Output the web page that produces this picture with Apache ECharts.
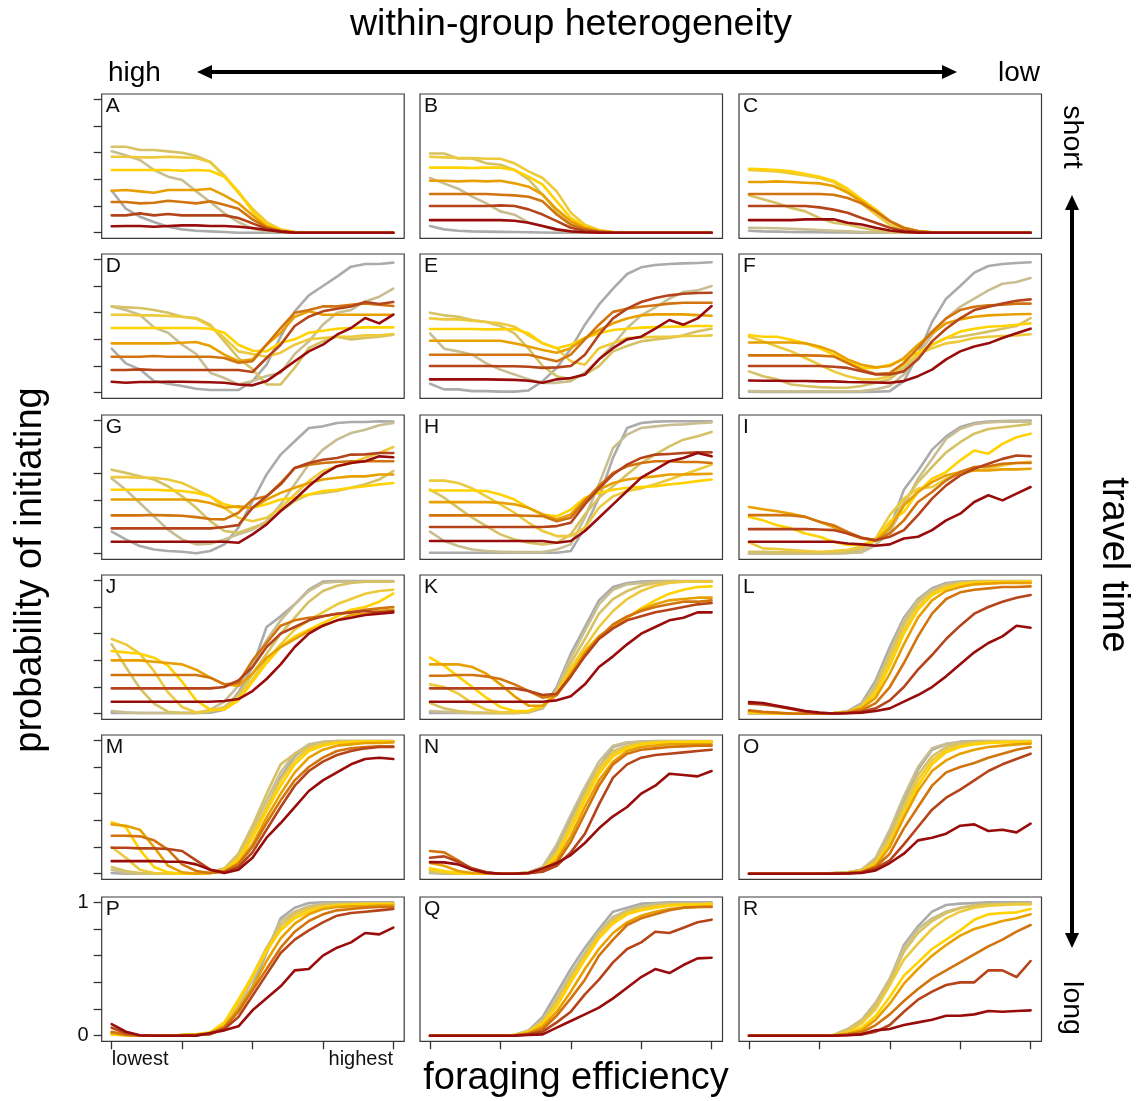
<!DOCTYPE html>
<html><head><meta charset="utf-8">
<script src="https://cdn.jsdelivr.net/npm/echarts@6/dist/echarts.min.js"></script>
<style>html,body{margin:0;padding:0;background:#fff}#c{width:1147px;height:1101px}</style>
</head><body><div id="c"></div>
<script>
// ---------- data ----------
const efficiency = [0,0.05,0.1,0.15,0.2,0.25,0.3,0.35,0.4,0.45,0.5,0.55,0.6,0.65,0.7,0.75,0.8,0.85,0.9,0.95,1];
const panelLetters = ['A','B','C','D','E','F','G','H','I','J','K','L','M','N','O','P','Q','R'];
const lineNames = ['grey','tan','khaki','lightYellow','gold','orange','darkOrange','rust','darkRed'];
const yTickValues = [0,0.2,0.4,0.6,0.8,1];
const yTickLabelValues = [0,1];
const xTickValues = [0,0.25,0.5,0.75,1];
const xTickLabelValues = [0,1];
const xLabelLow = 'lowest', xLabelHigh = 'highest';
const titleTop = 'within-group heterogeneity', labelHigh = 'high', labelLow = 'low';
const titleRight = 'travel time', labelShort = 'short', labelLong = 'long';
const titleLeft = 'probability of initiating', titleBottom = 'foraging efficiency';

const panelA = [
 [0.315,0.18,0.12,0.08,0.045,0.025,0.015,0.01,0.005,0,0,0,0,0,0,0,0,0,0,0,0],
 [0.61,0.58,0.545,0.47,0.42,0.395,0.31,0.23,0.145,0.08,0.03,0.012,0.005,0,0,0,0,0,0,0,0],
 [0.645,0.645,0.62,0.62,0.61,0.6,0.575,0.53,0.43,0.3,0.17,0.07,0.02,0.005,0,0,0,0,0,0,0],
 [0.57,0.57,0.565,0.565,0.57,0.565,0.56,0.53,0.42,0.3,0.18,0.08,0.025,0.005,0,0,0,0,0,0,0],
 [0.47,0.47,0.47,0.47,0.47,0.465,0.47,0.465,0.42,0.31,0.16,0.06,0.02,0.005,0,0,0,0,0,0,0],
 [0.315,0.32,0.31,0.3,0.32,0.32,0.32,0.33,0.28,0.22,0.13,0.045,0.015,0.005,0,0,0,0,0,0,0],
 [0.23,0.23,0.22,0.225,0.24,0.23,0.22,0.235,0.21,0.18,0.1,0.04,0.01,0,0,0,0,0,0,0,0],
 [0.13,0.13,0.145,0.13,0.14,0.13,0.13,0.13,0.13,0.11,0.07,0.03,0.01,0,0,0,0,0,0,0,0],
 [0.048,0.05,0.05,0.045,0.05,0.055,0.055,0.05,0.05,0.045,0.035,0.02,0.008,0,0,0,0,0,0,0,0]
];
const panelB = [
 [0.05,0.025,0.015,0.01,0.008,0.006,0.005,0.003,0.002,0,0,0,0,0,0,0,0,0,0,0,0],
 [0.41,0.37,0.33,0.27,0.22,0.16,0.135,0.075,0.05,0.018,0.008,0.003,0,0,0,0,0,0,0,0,0],
 [0.594,0.594,0.557,0.557,0.52,0.51,0.47,0.4,0.285,0.16,0.075,0.025,0.008,0.002,0,0,0,0,0,0,0],
 [0.57,0.565,0.56,0.56,0.555,0.555,0.52,0.46,0.41,0.31,0.15,0.06,0.02,0.005,0,0,0,0,0,0,0],
 [0.488,0.488,0.488,0.485,0.488,0.488,0.47,0.42,0.36,0.235,0.11,0.05,0.015,0.004,0,0,0,0,0,0,0],
 [0.39,0.39,0.385,0.39,0.385,0.39,0.37,0.345,0.285,0.175,0.087,0.037,0.012,0.003,0,0,0,0,0,0,0],
 [0.29,0.29,0.29,0.29,0.29,0.285,0.28,0.27,0.235,0.136,0.06,0.025,0.008,0.002,0,0,0,0,0,0,0],
 [0.2,0.2,0.2,0.2,0.2,0.205,0.2,0.175,0.136,0.087,0.037,0.015,0.005,0,0,0,0,0,0,0,0],
 [0.094,0.094,0.094,0.094,0.094,0.094,0.09,0.075,0.05,0.025,0.01,0.003,0,0,0,0,0,0,0,0,0]
];
const panelC = [
 [0.015,0.01,0.008,0.005,0.004,0.003,0.002,0.001,0,0,0,0,0,0,0,0,0,0,0,0,0],
 [0.037,0.035,0.033,0.03,0.025,0.02,0.015,0.01,0.005,0.002,0,0,0,0,0,0,0,0,0,0,0],
 [0.28,0.25,0.22,0.185,0.16,0.11,0.075,0.062,0.037,0.017,0.007,0.002,0,0,0,0,0,0,0,0,0],
 [0.47,0.465,0.46,0.445,0.43,0.41,0.38,0.31,0.22,0.136,0.06,0.025,0.008,0.002,0,0,0,0,0,0,0],
 [0.48,0.475,0.47,0.46,0.44,0.42,0.39,0.33,0.25,0.175,0.087,0.037,0.012,0.003,0,0,0,0,0,0,0],
 [0.38,0.38,0.385,0.38,0.375,0.37,0.35,0.3,0.235,0.16,0.087,0.037,0.012,0.003,0,0,0,0,0,0,0],
 [0.29,0.29,0.29,0.29,0.29,0.29,0.285,0.26,0.22,0.16,0.087,0.035,0.01,0.002,0,0,0,0,0,0,0],
 [0.2,0.2,0.2,0.2,0.2,0.19,0.173,0.15,0.11,0.074,0.037,0.015,0.005,0,0,0,0,0,0,0,0],
 [0.094,0.094,0.094,0.094,0.1,0.1,0.1,0.074,0.062,0.037,0.017,0.006,0,0,0,0,0,0,0,0,0]
];
const panelD = [
 [0.33,0.22,0.175,0.087,0.067,0.05,0.03,0.02,0.02,0.02,0.087,0.21,0.42,0.61,0.73,0.8,0.87,0.945,0.965,0.965,0.975],
 [0.647,0.62,0.585,0.49,0.45,0.36,0.29,0.15,0.11,0.062,0.087,0.125,0.15,0.29,0.385,0.51,0.6,0.62,0.684,0.72,0.78],
 [0.647,0.64,0.635,0.62,0.6,0.57,0.56,0.51,0.385,0.26,0.175,0.062,0.062,0.187,0.335,0.385,0.42,0.4,0.41,0.42,0.435],
 [0.585,0.585,0.58,0.58,0.575,0.57,0.555,0.5,0.41,0.31,0.29,0.27,0.3,0.36,0.4,0.41,0.42,0.42,0.43,0.43,0.44],
 [0.485,0.485,0.485,0.485,0.485,0.485,0.485,0.48,0.45,0.36,0.315,0.31,0.375,0.4,0.45,0.465,0.48,0.485,0.49,0.49,0.49],
 [0.37,0.37,0.37,0.37,0.37,0.375,0.38,0.35,0.285,0.236,0.25,0.36,0.45,0.57,0.61,0.585,0.585,0.585,0.585,0.585,0.585],
 [0.27,0.27,0.27,0.275,0.27,0.27,0.27,0.27,0.26,0.224,0.236,0.36,0.485,0.6,0.62,0.647,0.647,0.66,0.67,0.66,0.65],
 [0.17,0.17,0.175,0.17,0.17,0.17,0.17,0.17,0.17,0.17,0.155,0.26,0.36,0.5,0.57,0.61,0.63,0.647,0.68,0.665,0.68],
 [0.082,0.075,0.08,0.08,0.082,0.082,0.08,0.078,0.075,0.062,0.055,0.087,0.16,0.236,0.31,0.36,0.435,0.485,0.56,0.52,0.585]
];
const panelE = [
 [0.067,0.025,0.025,0.012,0.012,0.008,0.008,0.017,0.087,0.186,0.33,0.51,0.66,0.78,0.89,0.94,0.958,0.965,0.97,0.973,0.978],
 [0.445,0.33,0.31,0.285,0.22,0.173,0.136,0.1,0.074,0.074,0.087,0.15,0.25,0.36,0.485,0.58,0.64,0.705,0.755,0.767,0.8],
 [0.6,0.58,0.57,0.545,0.53,0.5,0.445,0.33,0.2,0.124,0.1,0.136,0.2,0.31,0.35,0.385,0.4,0.41,0.43,0.46,0.48],
 [0.557,0.55,0.55,0.54,0.53,0.52,0.495,0.43,0.37,0.334,0.235,0.21,0.334,0.37,0.41,0.415,0.42,0.42,0.425,0.425,0.43],
 [0.478,0.478,0.478,0.478,0.475,0.475,0.478,0.445,0.37,0.334,0.36,0.41,0.445,0.47,0.48,0.488,0.492,0.495,0.497,0.5,0.5],
 [0.39,0.39,0.39,0.39,0.39,0.39,0.37,0.346,0.32,0.3,0.334,0.41,0.47,0.52,0.557,0.58,0.587,0.587,0.587,0.582,0.577],
 [0.285,0.285,0.285,0.285,0.285,0.285,0.285,0.285,0.26,0.235,0.285,0.4,0.51,0.606,0.63,0.644,0.656,0.668,0.675,0.675,0.675],
 [0.2,0.2,0.2,0.2,0.2,0.198,0.198,0.195,0.186,0.19,0.2,0.285,0.433,0.557,0.63,0.68,0.71,0.73,0.742,0.747,0.75],
 [0.1,0.1,0.1,0.1,0.1,0.098,0.096,0.09,0.074,0.1,0.11,0.136,0.25,0.334,0.4,0.42,0.48,0.545,0.51,0.557,0.65]
];
const panelF = [
 [0.007,0.005,0.005,0.005,0.005,0.005,0.005,0.005,0.005,0.007,0.012,0.087,0.285,0.53,0.705,0.8,0.9,0.95,0.965,0.973,0.978],
 [0.012,0.01,0.01,0.01,0.01,0.01,0.01,0.01,0.012,0.025,0.05,0.136,0.285,0.433,0.557,0.644,0.705,0.767,0.817,0.83,0.86],
 [0.16,0.124,0.1,0.062,0.05,0.042,0.037,0.037,0.05,0.074,0.1,0.186,0.285,0.36,0.41,0.42,0.438,0.458,0.48,0.5,0.56],
 [0.42,0.385,0.346,0.31,0.26,0.21,0.16,0.124,0.1,0.1,0.124,0.21,0.285,0.334,0.37,0.385,0.41,0.42,0.425,0.43,0.438],
 [0.433,0.42,0.42,0.396,0.37,0.334,0.285,0.235,0.186,0.186,0.21,0.25,0.3,0.36,0.41,0.458,0.48,0.495,0.5,0.51,0.52],
 [0.376,0.376,0.376,0.376,0.37,0.346,0.31,0.25,0.21,0.19,0.2,0.26,0.36,0.445,0.52,0.55,0.57,0.58,0.585,0.588,0.59],
 [0.28,0.28,0.28,0.28,0.28,0.278,0.272,0.223,0.173,0.14,0.148,0.223,0.334,0.458,0.557,0.62,0.644,0.656,0.66,0.668,0.668],
 [0.2,0.2,0.2,0.2,0.2,0.2,0.195,0.186,0.16,0.136,0.136,0.16,0.25,0.385,0.48,0.557,0.62,0.644,0.668,0.69,0.7],
 [0.092,0.09,0.09,0.088,0.088,0.085,0.085,0.08,0.078,0.076,0.074,0.087,0.124,0.173,0.25,0.31,0.346,0.37,0.41,0.445,0.48]
];
const panelG = [
 [0.165,0.107,0.057,0.032,0.02,0.015,0.003,0.02,0.07,0.195,0.394,0.594,0.743,0.843,0.943,0.955,0.98,0.988,0.988,0.993,0.99],
 [0.564,0.48,0.38,0.28,0.18,0.107,0.07,0.075,0.107,0.145,0.18,0.244,0.37,0.52,0.67,0.78,0.855,0.905,0.93,0.963,0.98],
 [0.63,0.606,0.58,0.556,0.506,0.43,0.344,0.244,0.17,0.157,0.195,0.232,0.32,0.394,0.444,0.456,0.47,0.494,0.52,0.556,0.62],
 [0.574,0.574,0.57,0.57,0.556,0.53,0.48,0.43,0.344,0.27,0.244,0.27,0.344,0.444,0.544,0.62,0.656,0.68,0.72,0.755,0.8],
 [0.48,0.48,0.48,0.48,0.475,0.47,0.456,0.43,0.37,0.344,0.344,0.37,0.406,0.42,0.444,0.47,0.48,0.494,0.506,0.52,0.53],
 [0.406,0.406,0.406,0.406,0.406,0.406,0.4,0.38,0.344,0.356,0.344,0.406,0.456,0.494,0.53,0.556,0.57,0.58,0.58,0.594,0.594],
 [0.287,0.287,0.287,0.29,0.287,0.285,0.274,0.26,0.257,0.307,0.406,0.43,0.53,0.643,0.668,0.68,0.688,0.693,0.693,0.693,0.693],
 [0.19,0.19,0.19,0.19,0.19,0.19,0.19,0.19,0.2,0.214,0.344,0.43,0.52,0.643,0.68,0.705,0.718,0.743,0.745,0.755,0.755],
 [0.09,0.09,0.09,0.09,0.09,0.09,0.09,0.09,0.09,0.082,0.145,0.22,0.32,0.406,0.506,0.594,0.656,0.68,0.693,0.73,0.723]
];
const panelH = [
 [0.007,0.007,0.007,0.007,0.007,0.007,0.007,0.007,0.007,0.007,0.02,0.195,0.42,0.72,0.943,0.98,0.99,0.993,0.993,0.993,0.993],
 [0.165,0.095,0.057,0.032,0.02,0.015,0.012,0.012,0.012,0.032,0.07,0.27,0.52,0.793,0.893,0.943,0.955,0.965,0.97,0.978,0.985],
 [0.48,0.42,0.344,0.27,0.207,0.145,0.107,0.082,0.07,0.082,0.145,0.294,0.42,0.506,0.594,0.68,0.743,0.805,0.855,0.88,0.913],
 [0.548,0.548,0.53,0.49,0.43,0.37,0.307,0.232,0.17,0.132,0.132,0.195,0.344,0.43,0.47,0.49,0.52,0.556,0.594,0.63,0.668],
 [0.474,0.474,0.474,0.474,0.47,0.444,0.406,0.344,0.294,0.28,0.33,0.42,0.456,0.48,0.494,0.5,0.506,0.52,0.53,0.544,0.556],
 [0.387,0.387,0.387,0.387,0.387,0.382,0.37,0.344,0.294,0.257,0.294,0.406,0.48,0.53,0.556,0.57,0.58,0.594,0.594,0.597,0.6],
 [0.287,0.287,0.287,0.287,0.287,0.287,0.287,0.285,0.282,0.244,0.27,0.394,0.506,0.606,0.656,0.68,0.693,0.693,0.688,0.688,0.68],
 [0.2,0.2,0.2,0.2,0.2,0.2,0.2,0.2,0.2,0.207,0.232,0.37,0.49,0.594,0.668,0.718,0.743,0.748,0.755,0.76,0.76],
 [0.095,0.095,0.095,0.095,0.095,0.095,0.095,0.095,0.095,0.082,0.095,0.17,0.27,0.37,0.47,0.57,0.63,0.693,0.718,0.755,0.73]
];
const panelI = [
 [0.003,0.003,0.003,0.003,0.003,0.003,0.003,0.005,0.015,0.065,0.19,0.48,0.62,0.78,0.88,0.95,0.98,0.99,0.995,0.997,0.998],
 [0,0,0,0,0,0,0.002,0.005,0.01,0.065,0.164,0.363,0.562,0.71,0.86,0.935,0.97,0.985,0.99,0.99,0.99],
 [0.015,0.015,0.01,0.01,0.01,0.01,0.01,0.015,0.035,0.1,0.214,0.388,0.537,0.65,0.76,0.836,0.9,0.935,0.948,0.96,0.973],
 [0.085,0.04,0.035,0.027,0.02,0.015,0.02,0.03,0.052,0.114,0.289,0.413,0.488,0.5,0.562,0.6,0.624,0.637,0.662,0.68,0.69],
 [0.276,0.25,0.214,0.19,0.152,0.127,0.09,0.065,0.065,0.1,0.24,0.313,0.463,0.562,0.612,0.7,0.774,0.75,0.823,0.873,0.9],
 [0.35,0.333,0.318,0.3,0.276,0.24,0.2,0.152,0.114,0.1,0.19,0.363,0.463,0.537,0.587,0.612,0.624,0.624,0.632,0.632,0.637],
 [0.289,0.289,0.289,0.287,0.276,0.24,0.214,0.164,0.12,0.1,0.152,0.25,0.388,0.463,0.55,0.612,0.65,0.655,0.674,0.68,0.68],
 [0.184,0.184,0.184,0.184,0.184,0.182,0.177,0.152,0.12,0.1,0.127,0.177,0.289,0.413,0.512,0.587,0.637,0.674,0.711,0.736,0.731],
 [0.09,0.09,0.09,0.09,0.09,0.09,0.09,0.077,0.07,0.06,0.07,0.114,0.127,0.177,0.25,0.3,0.388,0.438,0.4,0.45,0.5]
];
const panelJ = [
 [0.005,0.005,0.005,0.005,0.005,0.005,0.005,0.008,0.03,0.16,0.35,0.65,0.73,0.82,0.93,0.99,0.995,0.995,0.995,0.995,0.995],
 [0.02,0.01,0.005,0.005,0.005,0.005,0.005,0.03,0.09,0.21,0.37,0.55,0.7,0.82,0.92,0.98,0.99,0.99,0.99,0.99,0.99],
 [0.52,0.35,0.19,0.075,0.015,0.005,0.005,0.02,0.05,0.14,0.3,0.45,0.6,0.72,0.84,0.92,0.96,0.98,0.99,0.99,0.99],
 [0.56,0.52,0.45,0.32,0.16,0.05,0.01,0.02,0.04,0.12,0.26,0.4,0.52,0.63,0.7,0.76,0.82,0.86,0.9,0.92,0.93],
 [0.47,0.46,0.45,0.42,0.36,0.24,0.1,0.03,0.03,0.1,0.24,0.38,0.5,0.58,0.63,0.68,0.73,0.78,0.8,0.84,0.9],
 [0.4,0.4,0.4,0.39,0.38,0.37,0.33,0.27,0.22,0.21,0.3,0.42,0.5,0.56,0.62,0.66,0.7,0.74,0.75,0.77,0.78],
 [0.29,0.29,0.29,0.29,0.29,0.29,0.29,0.27,0.22,0.23,0.4,0.53,0.66,0.7,0.72,0.73,0.75,0.76,0.78,0.79,0.8],
 [0.19,0.19,0.19,0.19,0.19,0.19,0.19,0.19,0.2,0.25,0.35,0.5,0.6,0.65,0.7,0.73,0.75,0.76,0.77,0.76,0.77],
 [0.09,0.09,0.09,0.09,0.09,0.09,0.09,0.09,0.095,0.11,0.17,0.26,0.37,0.5,0.6,0.66,0.7,0.72,0.74,0.75,0.76]
];
const panelK = [
 [0.005,0.005,0.005,0.005,0.005,0.005,0.005,0.01,0.04,0.2,0.45,0.65,0.85,0.95,0.98,0.99,0.995,0.995,0.995,0.995,0.995],
 [0.02,0.015,0.01,0.005,0.005,0.005,0.005,0.01,0.04,0.18,0.42,0.62,0.82,0.93,0.97,0.98,0.99,0.99,0.99,0.99,0.99],
 [0.08,0.04,0.02,0.01,0.005,0.005,0.005,0.01,0.05,0.17,0.38,0.56,0.75,0.86,0.92,0.96,0.98,0.99,0.99,0.99,0.99],
 [0.22,0.2,0.15,0.08,0.03,0.01,0.01,0.02,0.06,0.16,0.34,0.5,0.65,0.77,0.86,0.92,0.96,0.98,0.99,0.99,0.99],
 [0.42,0.36,0.28,0.2,0.12,0.05,0.02,0.02,0.06,0.16,0.32,0.47,0.58,0.65,0.72,0.79,0.85,0.9,0.93,0.95,0.955],
 [0.37,0.37,0.37,0.35,0.3,0.22,0.13,0.06,0.06,0.14,0.3,0.46,0.58,0.65,0.72,0.78,0.82,0.85,0.86,0.87,0.87],
 [0.285,0.285,0.29,0.29,0.28,0.26,0.22,0.17,0.12,0.14,0.28,0.44,0.57,0.67,0.73,0.77,0.8,0.82,0.84,0.84,0.85],
 [0.19,0.19,0.19,0.19,0.19,0.19,0.19,0.17,0.14,0.15,0.28,0.43,0.56,0.64,0.7,0.73,0.76,0.78,0.8,0.82,0.83],
 [0.09,0.09,0.09,0.09,0.09,0.09,0.09,0.09,0.09,0.1,0.13,0.22,0.35,0.43,0.52,0.6,0.65,0.7,0.72,0.76,0.76]
];
const panelL = [
 [0,0,0,0,0,0,0.005,0.02,0.08,0.25,0.5,0.72,0.86,0.94,0.98,0.99,0.995,0.995,0.995,0.995,0.995],
 [0,0,0,0,0,0,0.005,0.015,0.07,0.22,0.46,0.7,0.85,0.93,0.97,0.985,0.99,0.99,0.99,0.99,0.99],
 [0.01,0.005,0,0,0,0,0.005,0.015,0.06,0.2,0.44,0.67,0.83,0.92,0.96,0.98,0.99,0.99,0.99,0.99,0.99],
 [0.01,0.005,0,0,0,0,0.003,0.01,0.05,0.17,0.4,0.63,0.8,0.9,0.95,0.975,0.985,0.99,0.99,0.99,0.99],
 [0.01,0.005,0,0,0,0,0.003,0.01,0.05,0.15,0.36,0.6,0.78,0.89,0.94,0.97,0.98,0.985,0.985,0.985,0.99],
 [0.02,0.01,0.005,0,0,0,0.003,0.01,0.04,0.12,0.3,0.52,0.72,0.85,0.92,0.95,0.97,0.975,0.98,0.98,0.98],
 [0.025,0.015,0.008,0.002,0,0,0.002,0.008,0.025,0.08,0.2,0.38,0.58,0.75,0.86,0.91,0.93,0.94,0.95,0.95,0.955],
 [0.075,0.07,0.055,0.035,0.015,0.005,0.002,0.005,0.015,0.04,0.1,0.2,0.33,0.44,0.56,0.66,0.75,0.8,0.84,0.87,0.89],
 [0.087,0.08,0.06,0.04,0.02,0.008,0.002,0.003,0.008,0.02,0.04,0.09,0.14,0.2,0.28,0.37,0.46,0.53,0.58,0.66,0.645]
];
const panelM = [
 [0.005,0,0,0,0,0,0,0.005,0.02,0.1,0.28,0.5,0.72,0.88,0.96,0.985,0.995,0.995,0.995,0.995,0.995],
 [0.03,0.005,0,0,0,0,0,0.005,0.03,0.13,0.33,0.55,0.76,0.9,0.97,0.99,0.995,0.995,0.995,0.995,0.995],
 [0.05,0.02,0.005,0,0,0,0,0.01,0.04,0.15,0.36,0.6,0.82,0.9,0.95,0.98,0.99,0.99,0.99,0.99,0.99],
 [0.2,0.12,0.03,0.005,0,0,0,0.005,0.03,0.12,0.3,0.5,0.7,0.85,0.94,0.97,0.985,0.99,0.99,0.99,0.99],
 [0.385,0.35,0.18,0.05,0.01,0,0,0.005,0.025,0.1,0.27,0.47,0.66,0.82,0.92,0.96,0.98,0.985,0.99,0.99,0.99],
 [0.37,0.36,0.33,0.2,0.06,0.01,0,0.005,0.02,0.08,0.22,0.42,0.6,0.76,0.87,0.93,0.96,0.97,0.98,0.98,0.985],
 [0.285,0.285,0.28,0.25,0.18,0.07,0.02,0.005,0.015,0.07,0.2,0.38,0.55,0.7,0.8,0.87,0.92,0.94,0.95,0.955,0.955],
 [0.195,0.195,0.19,0.19,0.185,0.17,0.1,0.03,0.01,0.05,0.16,0.33,0.5,0.66,0.77,0.84,0.89,0.92,0.94,0.95,0.95],
 [0.094,0.094,0.094,0.094,0.09,0.09,0.07,0.03,0.005,0.03,0.12,0.27,0.38,0.5,0.62,0.7,0.76,0.82,0.86,0.87,0.86]
];
const panelN = [
 [0.005,0,0,0,0,0,0,0.01,0.05,0.2,0.42,0.62,0.8,0.95,0.98,0.99,0.995,0.995,0.995,0.995,0.995],
 [0.01,0.005,0,0,0,0,0,0.01,0.05,0.22,0.44,0.65,0.84,0.96,0.985,0.99,0.99,0.99,0.99,0.99,0.99],
 [0.02,0.005,0,0,0,0,0,0.008,0.04,0.17,0.38,0.6,0.8,0.92,0.96,0.98,0.99,0.99,0.99,0.99,0.99],
 [0.03,0.01,0,0,0,0,0,0.006,0.035,0.15,0.36,0.58,0.78,0.9,0.95,0.975,0.985,0.99,0.99,0.99,0.99],
 [0.04,0.02,0.005,0,0,0,0,0.005,0.03,0.13,0.33,0.55,0.75,0.88,0.94,0.97,0.98,0.985,0.985,0.99,0.99],
 [0.08,0.06,0.02,0.005,0,0,0,0.005,0.025,0.1,0.28,0.5,0.7,0.84,0.92,0.95,0.96,0.97,0.97,0.97,0.97],
 [0.17,0.16,0.1,0.03,0.005,0,0,0.005,0.02,0.08,0.24,0.45,0.66,0.82,0.9,0.93,0.94,0.95,0.955,0.96,0.96],
 [0.12,0.13,0.09,0.04,0.01,0,0,0.003,0.015,0.06,0.16,0.3,0.52,0.72,0.82,0.87,0.89,0.9,0.91,0.92,0.93],
 [0.087,0.085,0.07,0.03,0.008,0,0,0.005,0.04,0.08,0.14,0.23,0.34,0.43,0.5,0.6,0.66,0.75,0.74,0.73,0.77]
];
const panelO = [
 [0,0,0,0,0,0.003,0.005,0.01,0.03,0.1,0.3,0.55,0.78,0.93,0.97,0.99,0.995,0.995,0.995,0.995,0.995],
 [0,0,0,0,0,0.003,0.005,0.01,0.03,0.12,0.33,0.58,0.8,0.94,0.975,0.985,0.99,0.99,0.99,0.99,0.99],
 [0,0,0,0,0,0.002,0.004,0.008,0.025,0.1,0.28,0.52,0.74,0.88,0.95,0.975,0.985,0.99,0.99,0.99,0.99],
 [0,0,0,0,0,0.002,0.003,0.006,0.02,0.08,0.25,0.48,0.7,0.85,0.93,0.96,0.98,0.985,0.99,0.99,0.99],
 [0,0,0,0,0,0,0.002,0.005,0.02,0.07,0.22,0.44,0.66,0.82,0.91,0.95,0.97,0.98,0.985,0.985,0.99],
 [0,0,0,0,0,0,0.002,0.005,0.015,0.06,0.2,0.42,0.62,0.77,0.85,0.9,0.93,0.95,0.96,0.97,0.975],
 [0,0,0,0,0,0,0.002,0.004,0.012,0.05,0.15,0.34,0.5,0.66,0.76,0.8,0.83,0.87,0.9,0.93,0.95],
 [0,0,0,0,0,0,0.001,0.003,0.01,0.04,0.1,0.22,0.35,0.48,0.57,0.63,0.7,0.77,0.82,0.86,0.9],
 [0,0,0,0,0,0,0,0.002,0.005,0.025,0.08,0.15,0.25,0.27,0.3,0.36,0.37,0.32,0.33,0.31,0.375]
];
const panelP = [
 [0.01,0.005,0,0,0,0.003,0.006,0.01,0.06,0.2,0.37,0.62,0.88,0.96,0.995,1,1,1,1,1,1],
 [0.02,0.005,0,0,0,0.003,0.006,0.012,0.06,0.22,0.42,0.64,0.86,0.93,0.97,0.99,0.99,0.99,0.99,0.99,0.99],
 [0.02,0.005,0,0,0,0.004,0.008,0.015,0.07,0.24,0.45,0.66,0.83,0.92,0.96,0.98,0.985,0.99,0.99,0.99,0.99],
 [0.01,0.003,0,0,0,0.004,0.008,0.02,0.09,0.25,0.44,0.63,0.8,0.9,0.95,0.97,0.98,0.985,0.99,0.99,0.99],
 [0.01,0.003,0,0,0,0.005,0.01,0.025,0.1,0.27,0.45,0.64,0.79,0.88,0.93,0.96,0.975,0.98,0.985,0.985,0.985],
 [0.02,0.005,0,0,0,0.004,0.008,0.02,0.07,0.2,0.36,0.56,0.73,0.84,0.91,0.95,0.965,0.97,0.97,0.975,0.975],
 [0.03,0.008,0,0,0,0.003,0.006,0.015,0.06,0.18,0.34,0.5,0.66,0.78,0.86,0.91,0.94,0.95,0.96,0.965,0.965],
 [0.06,0.02,0.002,0,0,0.002,0.005,0.012,0.05,0.14,0.3,0.46,0.62,0.72,0.79,0.85,0.9,0.92,0.93,0.94,0.95],
 [0.087,0.03,0.003,0,0,0,0,0.02,0.04,0.07,0.19,0.28,0.37,0.49,0.5,0.6,0.66,0.7,0.77,0.76,0.81]
];
const panelQ = [
 [0,0,0,0,0,0,0.003,0.04,0.14,0.32,0.5,0.66,0.8,0.93,0.96,0.99,0.995,1,1,1,1],
 [0,0,0,0,0,0,0.005,0.04,0.12,0.28,0.46,0.62,0.78,0.89,0.94,0.97,0.985,0.99,0.99,0.99,0.99],
 [0,0,0,0,0,0,0.005,0.035,0.11,0.26,0.44,0.6,0.76,0.87,0.93,0.96,0.975,0.985,0.99,0.99,0.99],
 [0,0,0,0,0,0,0.004,0.03,0.1,0.24,0.42,0.59,0.75,0.86,0.92,0.95,0.97,0.98,0.985,0.985,0.99],
 [0,0,0,0,0,0,0.004,0.025,0.09,0.22,0.4,0.57,0.73,0.84,0.91,0.94,0.96,0.975,0.98,0.98,0.985],
 [0,0,0,0,0,0,0.003,0.02,0.07,0.18,0.33,0.5,0.65,0.77,0.85,0.9,0.93,0.95,0.96,0.965,0.97],
 [0,0,0,0,0,0,0.002,0.015,0.05,0.15,0.28,0.42,0.6,0.72,0.83,0.88,0.91,0.94,0.96,0.965,0.965],
 [0,0,0,0,0,0,0.002,0.01,0.03,0.1,0.18,0.31,0.42,0.55,0.65,0.7,0.78,0.77,0.81,0.85,0.87],
 [0,0,0,0,0,0,0,0.005,0.01,0.06,0.11,0.16,0.21,0.28,0.36,0.44,0.5,0.47,0.53,0.58,0.585]
];
const panelR = [
 [0,0,0,0,0,0,0.003,0.03,0.11,0.22,0.42,0.68,0.82,0.93,0.98,0.99,0.995,1,1,1,1],
 [0,0,0,0,0,0,0.005,0.05,0.12,0.25,0.43,0.66,0.8,0.88,0.93,0.96,0.98,0.985,0.99,0.99,0.99],
 [0,0,0,0,0,0,0.005,0.045,0.11,0.22,0.4,0.63,0.77,0.86,0.92,0.955,0.975,0.985,0.985,0.99,0.99],
 [0,0,0,0,0,0,0.004,0.03,0.09,0.2,0.38,0.57,0.69,0.8,0.88,0.93,0.96,0.975,0.98,0.985,0.985],
 [0,0,0,0,0,0,0.003,0.02,0.06,0.15,0.29,0.45,0.55,0.65,0.72,0.79,0.87,0.91,0.92,0.925,0.95],
 [0,0,0,0,0,0,0.002,0.015,0.04,0.12,0.24,0.39,0.5,0.6,0.68,0.75,0.8,0.83,0.86,0.88,0.91],
 [0,0,0,0,0,0,0.002,0.01,0.025,0.08,0.16,0.26,0.35,0.43,0.49,0.55,0.61,0.67,0.72,0.78,0.83],
 [0,0,0,0,0,0,0.001,0.005,0.01,0.03,0.08,0.18,0.27,0.33,0.38,0.4,0.4,0.49,0.49,0.44,0.56],
 [0,0,0,0,0,0,0,0.003,0.01,0.04,0.05,0.08,0.1,0.12,0.15,0.15,0.16,0.185,0.18,0.185,0.19]
];
const panels = [panelA,panelB,panelC,panelD,panelE,panelF,panelG,panelH,panelI,
                panelJ,panelK,panelL,panelM,panelN,panelO,panelP,panelQ,panelR];

// ---------- styles & layout ----------
const lineColors = ['#ABABAB','#C8BE92','#D6C264','#EDC93C','#FFD200','#E8A000','#D2740E','#B5441A','#990C0C'];
const FONT = 'Liberation Sans, Arial, Helvetica, sans-serif';
const colLefts = [101.7, 420, 739];
const rowTops = [94, 254, 415, 575, 735, 897];
const boxW = 302.5, boxH = 144.3;
const xMin = -0.0355, xMax = 1.0387, yMin = -0.042, yMax = 1.04;

const grids = [], xAxes = [], yAxes = [], series = [], graphics = [];
panels.forEach((pd, p) => {
  const r = Math.floor(p / 3), c = p % 3;
  const isBottom = r === 5, isLeft = c === 0, isP = p === 15;
  grids.push({left: colLefts[c], top: rowTops[r], width: boxW, height: boxH, show: true,
    borderColor: '#3a3a3a', borderWidth: 1.2, backgroundColor: 'rgba(0,0,0,0)',
    containLabel: false, outerBoundsMode: 'none'});
  xAxes.push({type: 'value', gridIndex: p, min: xMin, max: xMax, position: 'bottom',
    axisLine: {show: false, onZero: false}, splitLine: {show: false},
    axisTick: {show: isBottom, inside: false, length: 8, customValues: xTickValues,
      lineStyle: {color: '#333', width: 1.3}},
    axisLabel: {show: isP, customValues: xTickLabelValues, margin: 8, fontSize: 20, color: '#111', fontFamily: FONT,
      formatter: v => v === 0 ? '{lo|' + xLabelLow + '}' : '{hi|' + xLabelHigh + '}',
      rich: {lo: {fontSize: 20, fontFamily: FONT, color: '#111', padding: [0, 0, 0, 57]},
             hi: {fontSize: 20, fontFamily: FONT, color: '#111', padding: [0, 65, 0, 0]}}}
  });
  yAxes.push({type: 'value', gridIndex: p, min: yMin, max: yMax, position: 'left',
    axisLine: {show: false, onZero: false}, splitLine: {show: false},
    axisTick: {show: isLeft, inside: false, length: 8, customValues: yTickValues,
      lineStyle: {color: '#333', width: 1.3}},
    axisLabel: {show: isP, customValues: yTickLabelValues, margin: 13, fontSize: 20, color: '#111',
      fontFamily: FONT, formatter: v => String(v)}
  });
  pd.forEach((vals, j) => {
    series.push({type: 'line', name: panelLetters[p] + '-' + lineNames[j], xAxisIndex: p, yAxisIndex: p,
      data: efficiency.map((x, i) => [x, vals[i]]),
      symbol: 'none', showSymbol: false, silent: true, animation: false,
      lineStyle: {color: lineColors[j], width: 2.6, join: 'round', cap: 'round'},
      itemStyle: {color: lineColors[j]}});
  });
  graphics.push({type: 'text', x: colLefts[c] + 4, y: rowTops[r] + 2, z: 100,
    style: {text: panelLetters[p], font: '21px ' + FONT, fill: '#111', align: 'left', verticalAlign: 'top',
      textAlign: 'left', textVerticalAlign: 'top'}});
});

function txt(text, x, y, size, rot, align) {
  return {type: 'text', x: x, y: y, rotation: rot || 0, z: 100,
    style: {text: text, font: size + 'px ' + FONT, fill: '#000', align: align || 'center', verticalAlign: 'middle',
      textAlign: align || 'center', textVerticalAlign: 'middle'}};
}
graphics.push(txt(titleTop, 571, 25, 37.5));
graphics.push(txt(labelHigh, 108, 73, 28, 0, 'left'));
graphics.push(txt(labelLow, 1040, 73, 28, 0, 'right'));
graphics.push(txt(labelShort, 1072, 137, 28.5, -Math.PI / 2));
graphics.push(txt(labelLong, 1072, 1008, 28.5, -Math.PI / 2));
graphics.push(txt(titleRight, 1113, 565, 38, -Math.PI / 2));
graphics.push(txt(titleLeft, 31, 570, 38, Math.PI / 2));
graphics.push(txt(titleBottom, 576, 1079, 38));

// arrows
const hA = {y: 72, x1: 197, x2: 957}, vA = {x: 1072, y1: 195, y2: 948};
const headL = 15, headW = 7;
graphics.push({type: 'line', shape: {x1: hA.x1 + 8, y1: hA.y, x2: hA.x2 - 8, y2: hA.y}, style: {stroke: '#000', lineWidth: 4}});
graphics.push({type: 'polygon', shape: {points: [[hA.x1, hA.y], [hA.x1 + headL, hA.y - headW], [hA.x1 + headL, hA.y + headW]]}, style: {fill: '#000'}});
graphics.push({type: 'polygon', shape: {points: [[hA.x2, hA.y], [hA.x2 - headL, hA.y - headW], [hA.x2 - headL, hA.y + headW]]}, style: {fill: '#000'}});
graphics.push({type: 'line', shape: {x1: vA.x, y1: vA.y1 + 8, x2: vA.x, y2: vA.y2 - 8}, style: {stroke: '#000', lineWidth: 4}});
graphics.push({type: 'polygon', shape: {points: [[vA.x, vA.y1], [vA.x - headW, vA.y1 + headL], [vA.x + headW, vA.y1 + headL]]}, style: {fill: '#000'}});
graphics.push({type: 'polygon', shape: {points: [[vA.x, vA.y2], [vA.x - headW, vA.y2 - headL], [vA.x + headW, vA.y2 - headL]]}, style: {fill: '#000'}});

const chart = echarts.init(document.getElementById('c'), null, {renderer: 'canvas'});
chart.setOption({
  animation: false,
  backgroundColor: '#ffffff',
  grid: grids, xAxis: xAxes, yAxis: yAxes, series: series,
  graphic: {elements: graphics}
});
</script>
</body></html>
